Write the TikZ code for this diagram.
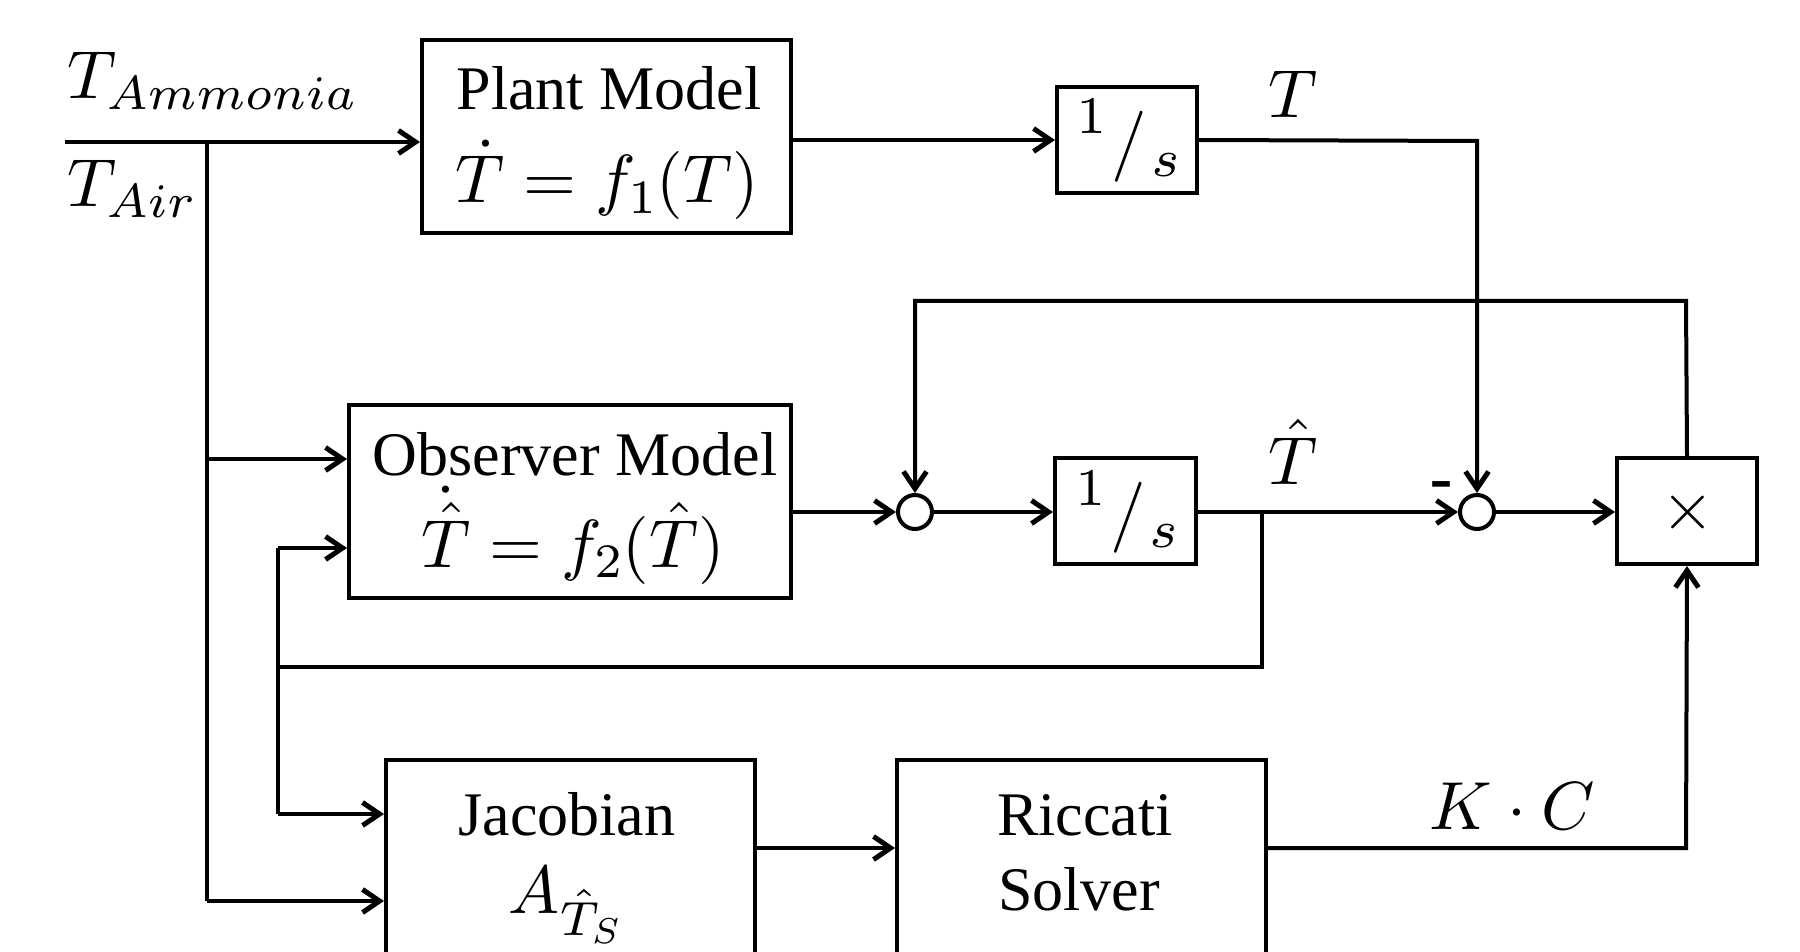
\RequirePackage{fix-cm}
\documentclass[tikz,border=0pt]{standalone}
\usepackage[no-math]{fontspec}
\setmainfont{Liberation Serif}
\setsansfont{Liberation Sans}
\DeclareFontShape{OML}{cmm}{m}{it}{<-30> cmmi7 <30-> cmmi10}{\skewchar\font127 }
\DeclareFontShape{OT1}{cmr}{m}{n}{<-30> cmr7 <30-> cmr10}{}
\DeclareMathSizes{34}{34}{24}{18}
\usetikzlibrary{arrows.meta}
\newcommand{\txtsz}{\fontsize{31}{36}\selectfont}
\newcommand{\mthsz}{\fontsize{34}{40}\selectfont}
\newcommand{\intg}{\raisebox{12.5pt}{\fontsize{26.5}{30}\selectfont$1$}\hspace{2.2pt}\raisebox{-2.6pt}{\fontsize{35.5}{40}\selectfont$/$}\hspace{2.2pt}\raisebox{-9pt}{\fontsize{26.5}{30}\selectfont$s$}}
\begin{document}
\begin{tikzpicture}[x=0.5pt,y=-0.5pt,line width=2pt,
  arr/.style={-{Straight Barb[length=8.5pt,width=11.5pt,line width=2.5pt]}},
  blk/.style={draw,line width=2pt,inner sep=0pt},
  sumc/.style={draw,circle,line width=2pt,minimum size=17pt,inner sep=0pt},
  txt/.style={inner sep=0pt,anchor=base,font=\txtsz},
  mth/.style={inner sep=0pt,anchor=base,font=\mthsz}]
\useasboundingbox (0,0) rectangle (1800,952);
% blocks
\node[blk,minimum width=184.5pt,minimum height=96.5pt] (plant) at (606.5,136.5) {};
\node[blk,minimum width=221pt,minimum height=96.5pt] (obs) at (570,501.5) {};
\node[blk,minimum width=184.5pt,minimum height=120pt] (jac) at (570.5,880) {};
\node[blk,minimum width=184.5pt,minimum height=120pt] (ric) at (1081.5,880) {};
\node[blk,minimum width=70pt,minimum height=53pt] (int1) at (1127,140) {};
\node[blk,minimum width=70.5pt,minimum height=53pt] (int2) at (1125.5,511) {};
\node[blk,minimum width=70pt,minimum height=53pt] (mul) at (1687,511) {};
\node[sumc] (s1) at (915,512) {};
\node[sumc] (s2) at (1477,512) {};
% texts in blocks
\node[txt] (tp1) at (609,110) {Plant Model};
\node[mth] (tp2) at (607,203) {$\dot{T} = f_1(T)$};
\node[txt] (to1) at (575,475) {Observer Model};
\node[mth] (to2) at (573,567) {$\dot{\hat{T}} = f_2(\hat{T})$};
\node[txt] (tj1) at (567,835) {Jacobian};
\node[mth] (tj2) at (565,913) {$A_{\hat{T}_S}$};
\node[txt] (tr1) at (1085,835) {Riccati};
\node[txt] (tr2) at (1079,910) {Solver};
\node[inner sep=0pt,anchor=base] (ti1) at (1128.5,159) {\intg};
\node[inner sep=0pt,anchor=base] (ti2) at (1127,530) {\intg};
\node[mth,anchor=center] (tm) at (1688,512) {$\times$};
% labels
\node[mth,anchor=base west] (lam) at (65,99) {$T_{Ammonia}$};
\node[mth,anchor=base west] (lair) at (65,207) {$T_{Air}$};
\node[mth] (lT) at (1293,118) {$T$};
\node[mth] (lTh) at (1293,484) {$\hat{T}$};
\node[mth] (lKC) at (1512,829) {$K\cdot C$};
\node[inner sep=0pt,anchor=base,font=\fontsize{36}{40}\selectfont\sffamily] (lminus) at (1441,503) {-};
% coordinates
\coordinate (in) at (65,142);
\coordinate (b1) at (207,142);
\coordinate (b1o) at (207,459);
\coordinate (b1j) at (207,901);
\coordinate (b2o) at (278,548);
\coordinate (b2m) at (278,667);
\coordinate (b2j) at (278,814);
\coordinate (th) at (1262,512);
\coordinate (thd) at (1262,667);
\coordinate (tc) at (1477,141);
\coordinate (fbr) at (1686,301);
\coordinate (fbl) at (915,301);
\coordinate (kc) at (1686,848);
% connectors
\draw[arr] (in) -- (in -| plant.west);
\draw (b1) -- (b1j);
\draw[arr] (b1o) -- (b1o -| obs.west);
\draw[arr] (b1j) -- (b1j -| jac.west);
\draw (b2o) -- (b2j);
\draw[arr] (b2o) -- (b2o -| obs.west);
\draw[arr] (b2j) -- (b2j -| jac.west);
\draw (th) -- (thd) -- (b2m);
\draw[arr] (plant.east |- int1.west) -- (int1.west);
\draw[arr] (int1.east) -- (tc) -- (s2.north);
\draw[arr] (obs.east |- s1.west) -- (s1.west);
\draw[arr] (s1.east) -- (s1.east -| int2.west);
\draw[arr] (int2.east |- s2.west) -- (s2.west);
\draw[arr] (s2.east) -- (s2.east -| mul.west);
\draw[arr] (mul.north) -- (fbr) -- (fbl) -- (s1.north);
\draw[arr] (jac.east |- 0,848) -- (ric.west |- 0,848);
\draw[arr] (ric.east |- kc) -- (kc) -- (mul.south);
\end{tikzpicture}
\end{document}
